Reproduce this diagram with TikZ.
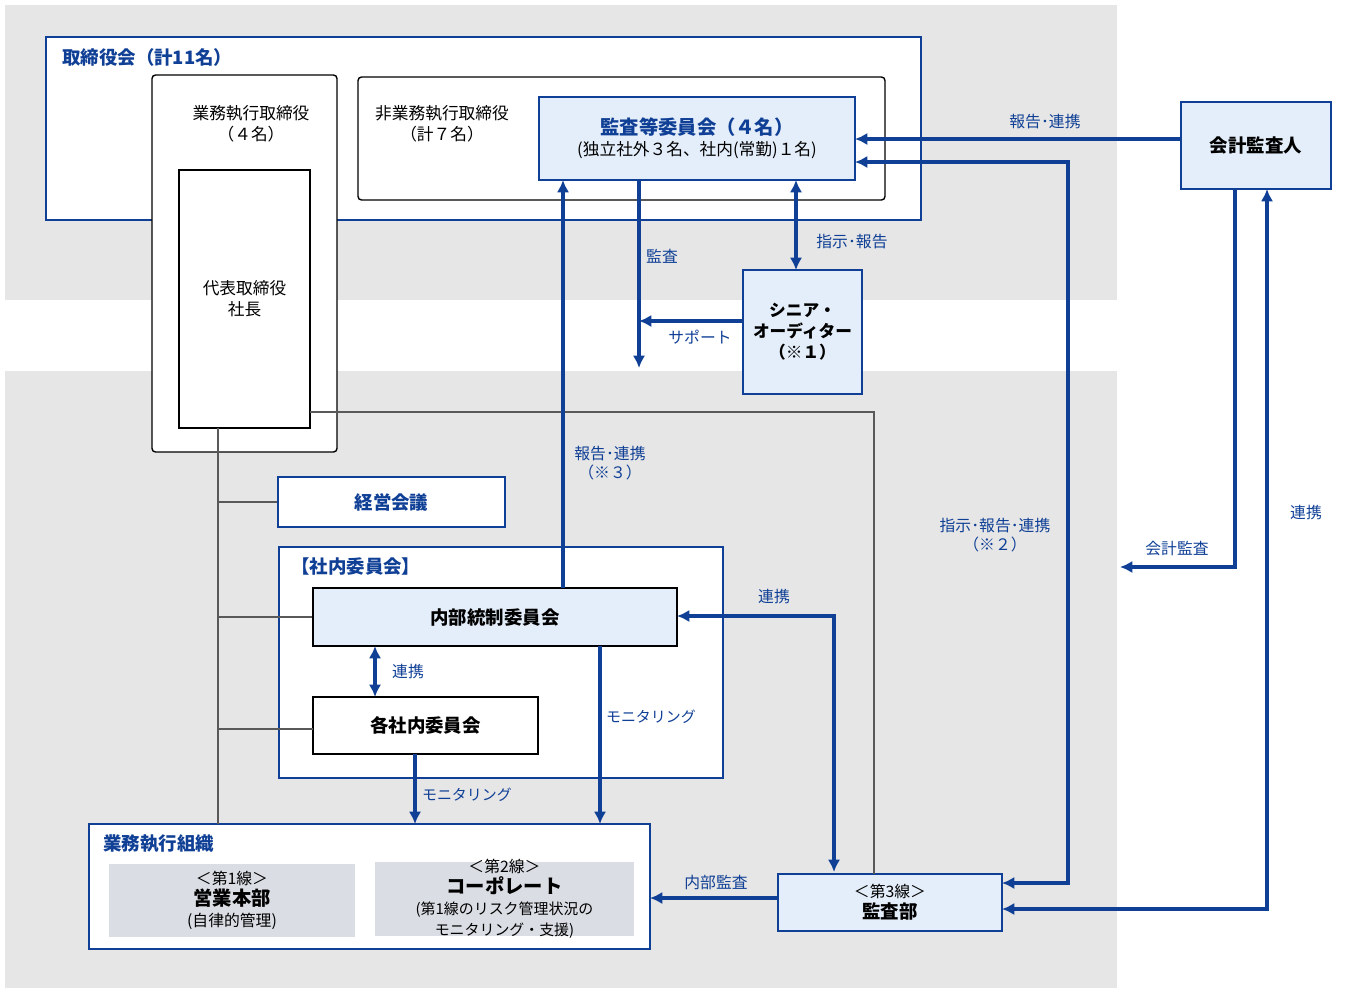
\documentclass[tikz,border=0pt]{standalone}
\usepackage{fontspec}
\setmainfont{Noto Sans CJK JP}
\usetikzlibrary{arrows.meta}
\definecolor{db}{RGB}{16,64,150}
\definecolor{lb}{RGB}{228,238,250}
\definecolor{bg}{RGB}{230,230,230}
\definecolor{gb}{RGB}{218,222,228}
\begin{document}
\begin{tikzpicture}[x=0.02cm,y=-0.02cm,
  bl/.style={draw=db,line width=1.4pt},
  bk/.style={draw=black,line width=0.8pt},
  arr/.style={draw=db,line width=1.8pt,-{Latex[length=7pt,width=7pt]}},
  darr/.style={draw=db,line width=1.8pt,{Latex[length=7pt,width=7pt]}-{Latex[length=7pt,width=7pt]}},
  thin/.style={draw=black!65,line width=0.7pt},
  lab/.style={text=db,font=\fontsize{9}{11}\selectfont,align=center},
  t/.style={font=\fontsize{9.5}{12}\selectfont,align=center},
  tb/.style={font=\bfseries\fontsize{10.5}{13}\selectfont,align=center}]
\useasboundingbox (0,0) rectangle (1350,992);
\fill[bg] (5,5) rectangle (1117,300);
\fill[bg] (5,371) rectangle (1117,988);
% board
\draw[bl,fill=white] (46,37) rectangle (921,220);
\node[anchor=west,text=db,font=\bfseries\fontsize{10.5}{13}\selectfont] (boardt) at (56,57) {取締役会（計11名）};
\draw[bk,fill=white,rounded corners=2pt] (152,75) rectangle (337,452);
\node[t] (exe) at (251,124) {業務執行取締役\\（４名）};
\node[bk,fill=white,minimum width=131*0.02cm,minimum height=258*0.02cm] (pres) at (244.5,299) {};
\node[t] at (pres) {代表取締役\\社長};
\draw[bk,rounded corners=2pt] (358,77) rectangle (885,200);
\node[t] (nonexe) at (442,124) {非業務執行取締役\\（計７名）};
\node[bl,fill=lb,minimum width=316*0.02cm,minimum height=83*0.02cm] (ac) at (697,138.5) {};
\node[align=center] at (ac) {{\color{db}\bfseries\fontsize{11}{14}\selectfont 監査等委員会（４名）}\\{\fontsize{9.5}{12}\selectfont (独立社外３名、社内(常勤)１名)}};
\node[bl,fill=lb,minimum width=150*0.02cm,minimum height=87*0.02cm,tb] (ka) at (1256,145.5) {会計監査人};
\node[bl,fill=lb,minimum width=119*0.02cm,minimum height=124*0.02cm,align=center,font=\bfseries\fontsize{9.5}{12}\selectfont] (sa) at (802.5,332) {シニア・\\オーディター\\（※１）};
\node[bl,fill=white,minimum width=227*0.02cm,minimum height=50*0.02cm,tb,text=db] (kk) at (391.5,502) {経営会議};
% internal committee
\draw[bl,fill=white] (279,547) rectangle (723,778);
\node[anchor=west,text=db,font=\bfseries\fontsize{10.5}{13}\selectfont] (sit) at (285,566) {【社内委員会】};
\node[bk,fill=lb,minimum width=364*0.02cm,minimum height=58*0.02cm,tb] (ic) at (495,617) {内部統制委員会};
\node[bk,fill=white,minimum width=225*0.02cm,minimum height=57*0.02cm,tb] (ec) at (425.5,725.5) {各社内委員会};
% business org
\draw[bl,fill=white] (89,824) rectangle (650,949);
\node[anchor=west,text=db,font=\bfseries\fontsize{10.5}{13}\selectfont] (bot) at (97,844) {業務執行組織};
\node[fill=gb,minimum width=246*0.02cm,minimum height=73*0.02cm] (l1) at (232,900.5) {};
\node[align=center,inner sep=0pt] at (l1) {{\fontsize{9}{11}\selectfont ＜第1線＞}\\{\bfseries\fontsize{11}{13}\selectfont 営業本部}\\{\fontsize{9}{11}\selectfont (自律的管理)}};
\node[fill=gb,minimum width=259*0.02cm,minimum height=74*0.02cm] (l2) at (504.5,899) {};
\node[align=center,inner sep=0pt] at (l2) {{\fontsize{9}{11}\selectfont ＜第2線＞}\\{\bfseries\fontsize{11}{13}\selectfont コーポレート}\\{\fontsize{8.5}{10}\selectfont (第1線のリスク管理状況の}\\{\fontsize{8.5}{10}\selectfont モニタリング・支援)}};
\node[bl,fill=lb,minimum width=224*0.02cm,minimum height=57*0.02cm] (ia) at (890,902.5) {};
\node[align=center,inner sep=0pt] at (ia) {{\fontsize{9}{11}\selectfont ＜第3線＞}\\{\bfseries\fontsize{10.5}{13}\selectfont 監査部}};
% thin lines
\coordinate (g1) at (218,428);
\coordinate (g2) at (218,824);
\draw[thin] (g1) -- (g2);
\draw[thin] (218,502) -- (kk.west);
\draw[thin] (218,617) -- (ic.west);
\draw[thin] (218,729) -- (313,729);
\draw[thin] (310,412) -- (874,412) -- (874,874);
% arrows
\draw[arr] (ka.west |- 0,139) -- (855,139);
\node[lab] at (1045,122) {報告･連携};
\draw[darr] (855,162) -- (1068,162) -- (1068,883) -- (1002,883);
\node[lab] at (995,535) {指示･報告･連携\\（※２）};
\draw[arr] (639,180) -- (639,368);
\node[lab] at (662,256) {監査};
\draw[arr] (sa.west |- 0,321) -- (639,321);
\node[lab] at (700,337) {サポート};
\draw[darr] (796,180) -- (796,270);
\node[lab] at (852,242) {指示･報告};
\draw[arr] (563,588) -- (563,180);
\node[lab] at (610,463) {報告･連携\\（※３）};
\draw[arr] (1235,189) -- (1235,567) -- (1120,567);
\node[lab] at (1177,549) {会計監査};
\draw[darr] (1002,909) -- (1267,909) -- (1267,189);
\node[lab] at (1306,512) {連携};
\draw[darr] (677,616) -- (834,616) -- (834,872);
\node[lab] at (774,596) {連携};
\draw[darr] (375,646) -- (375,697);
\node[lab] at (408,671) {連携};
\draw[arr] (600,646) -- (600,824);
\node[lab,anchor=west,font=\fontsize{8.5}{10}\selectfont,inner sep=1pt] at (604,717) {モニタリング};
\draw[arr] (415,754) -- (415,824);
\node[lab,anchor=west,font=\fontsize{8.5}{10}\selectfont,inner sep=1pt] at (420,795) {モニタリング};
\draw[arr] (778,898) -- (650,898);
\node[lab] at (716,882) {内部監査};
\end{tikzpicture}
\end{document}
